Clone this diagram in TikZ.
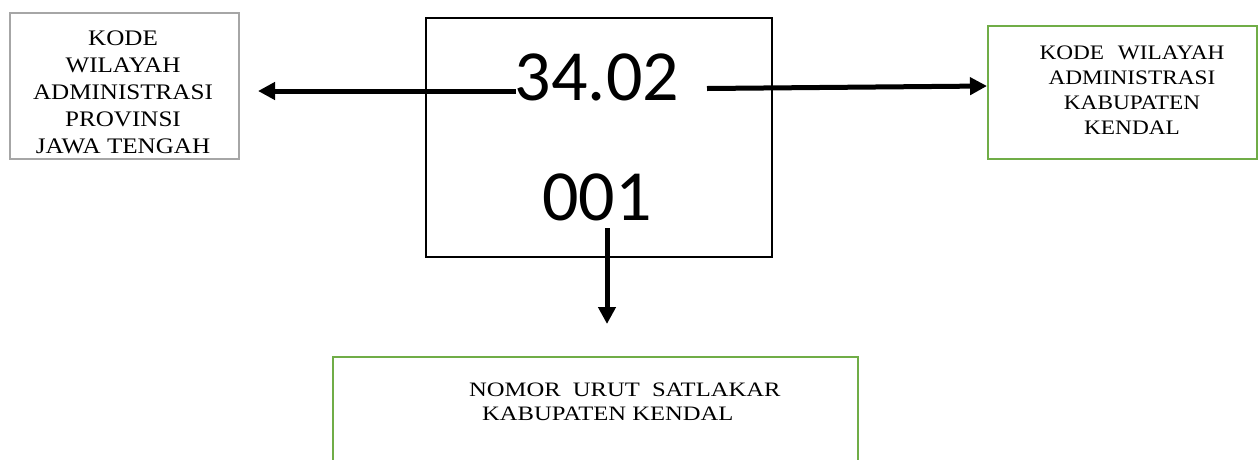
\documentclass[tikz,border=0pt]{standalone}
\usepackage{fontspec}
\setmainfont{Liberation Serif}
\newfontfamily\wideserif[FakeStretch=1.13]{Liberation Serif}
\newfontfamily\botserif[FakeStretch=1.2]{Liberation Serif}
\newfontfamily\calib{Carlito}
\usetikzlibrary{arrows.meta}
\definecolor{boxgray}{HTML}{A6A6A6}
\definecolor{boxgreen}{HTML}{70AD47}
\tikzset{
  box/.style={draw, line width=2pt, inner sep=0pt},
  grayBox/.style={box, draw=boxgray},
  greenBox/.style={box, draw=boxgreen},
  centerBox/.style={draw=black, line width=1.3pt, inner sep=0pt},
  bignum/.style={font=\calib\fontsize{72}{72}\selectfont, inner sep=0pt},
  lefttxt/.style={align=center, inner sep=0pt, font=\wideserif\fontsize{22.2}{27}\selectfont},
  righttxt/.style={align=center, inner sep=0pt, font=\wideserif\fontsize{20.6}{25}\selectfont},
  bottxt/.style={align=left, inner sep=0pt, font=\botserif\fontsize{20.5}{24}\selectfont},
  arr/.style={line width=5pt, -{Triangle[length=17pt,width=17pt]}},
}
\begin{document}
\begin{tikzpicture}[x=1pt,y=-1pt]
\useasboundingbox (0,0) rectangle (1259,459);
% boxes
\node[grayBox, minimum width=229pt, minimum height=146pt] (boxL) at (124.5,86) {};
\node[greenBox, minimum width=269pt, minimum height=133pt] (boxR) at (1122.5,92.5) {};
\node[greenBox, minimum width=525pt, minimum height=130pt] (boxB) at (595.5,422) {};
\node[centerBox, minimum width=346pt, minimum height=239pt] (boxC) at (599,137.5) {};
% texts
\node[lefttxt] (txtL) at (123,92) {KODE\\WILAYAH\\ADMINISTRASI\\PROVINSI\\JAWA TENGAH};
\node[righttxt] (txtR) at (1132,90) {KODE\hspace{8pt} WILAYAH\\ADMINISTRASI\\KABUPATEN\\KENDAL};
\node[bottxt, anchor=west] (txtB) at (469,402) {NOMOR\hspace{6pt} URUT\hspace{6pt} SATLAKAR\\\hspace*{13pt}KABUPATEN KENDAL};
\node[bignum] (num1) at (597,77) {34.02};
\node[bignum] (num2) at (597,197) {001};
% connector ends
\coordinate (lStart) at (516,91);
\coordinate (lEnd) at (258,91);
\coordinate (rStart) at (707,88.5);
\coordinate (rEnd) at (987,86);
\coordinate (dStart) at (607,228);
\coordinate (dEnd) at (607,324);
\draw[arr] (lStart) -- (lEnd);
\draw[arr] (rStart) -- (rEnd);
\draw[arr] (dStart) -- (dEnd);
\end{tikzpicture}
\end{document}
